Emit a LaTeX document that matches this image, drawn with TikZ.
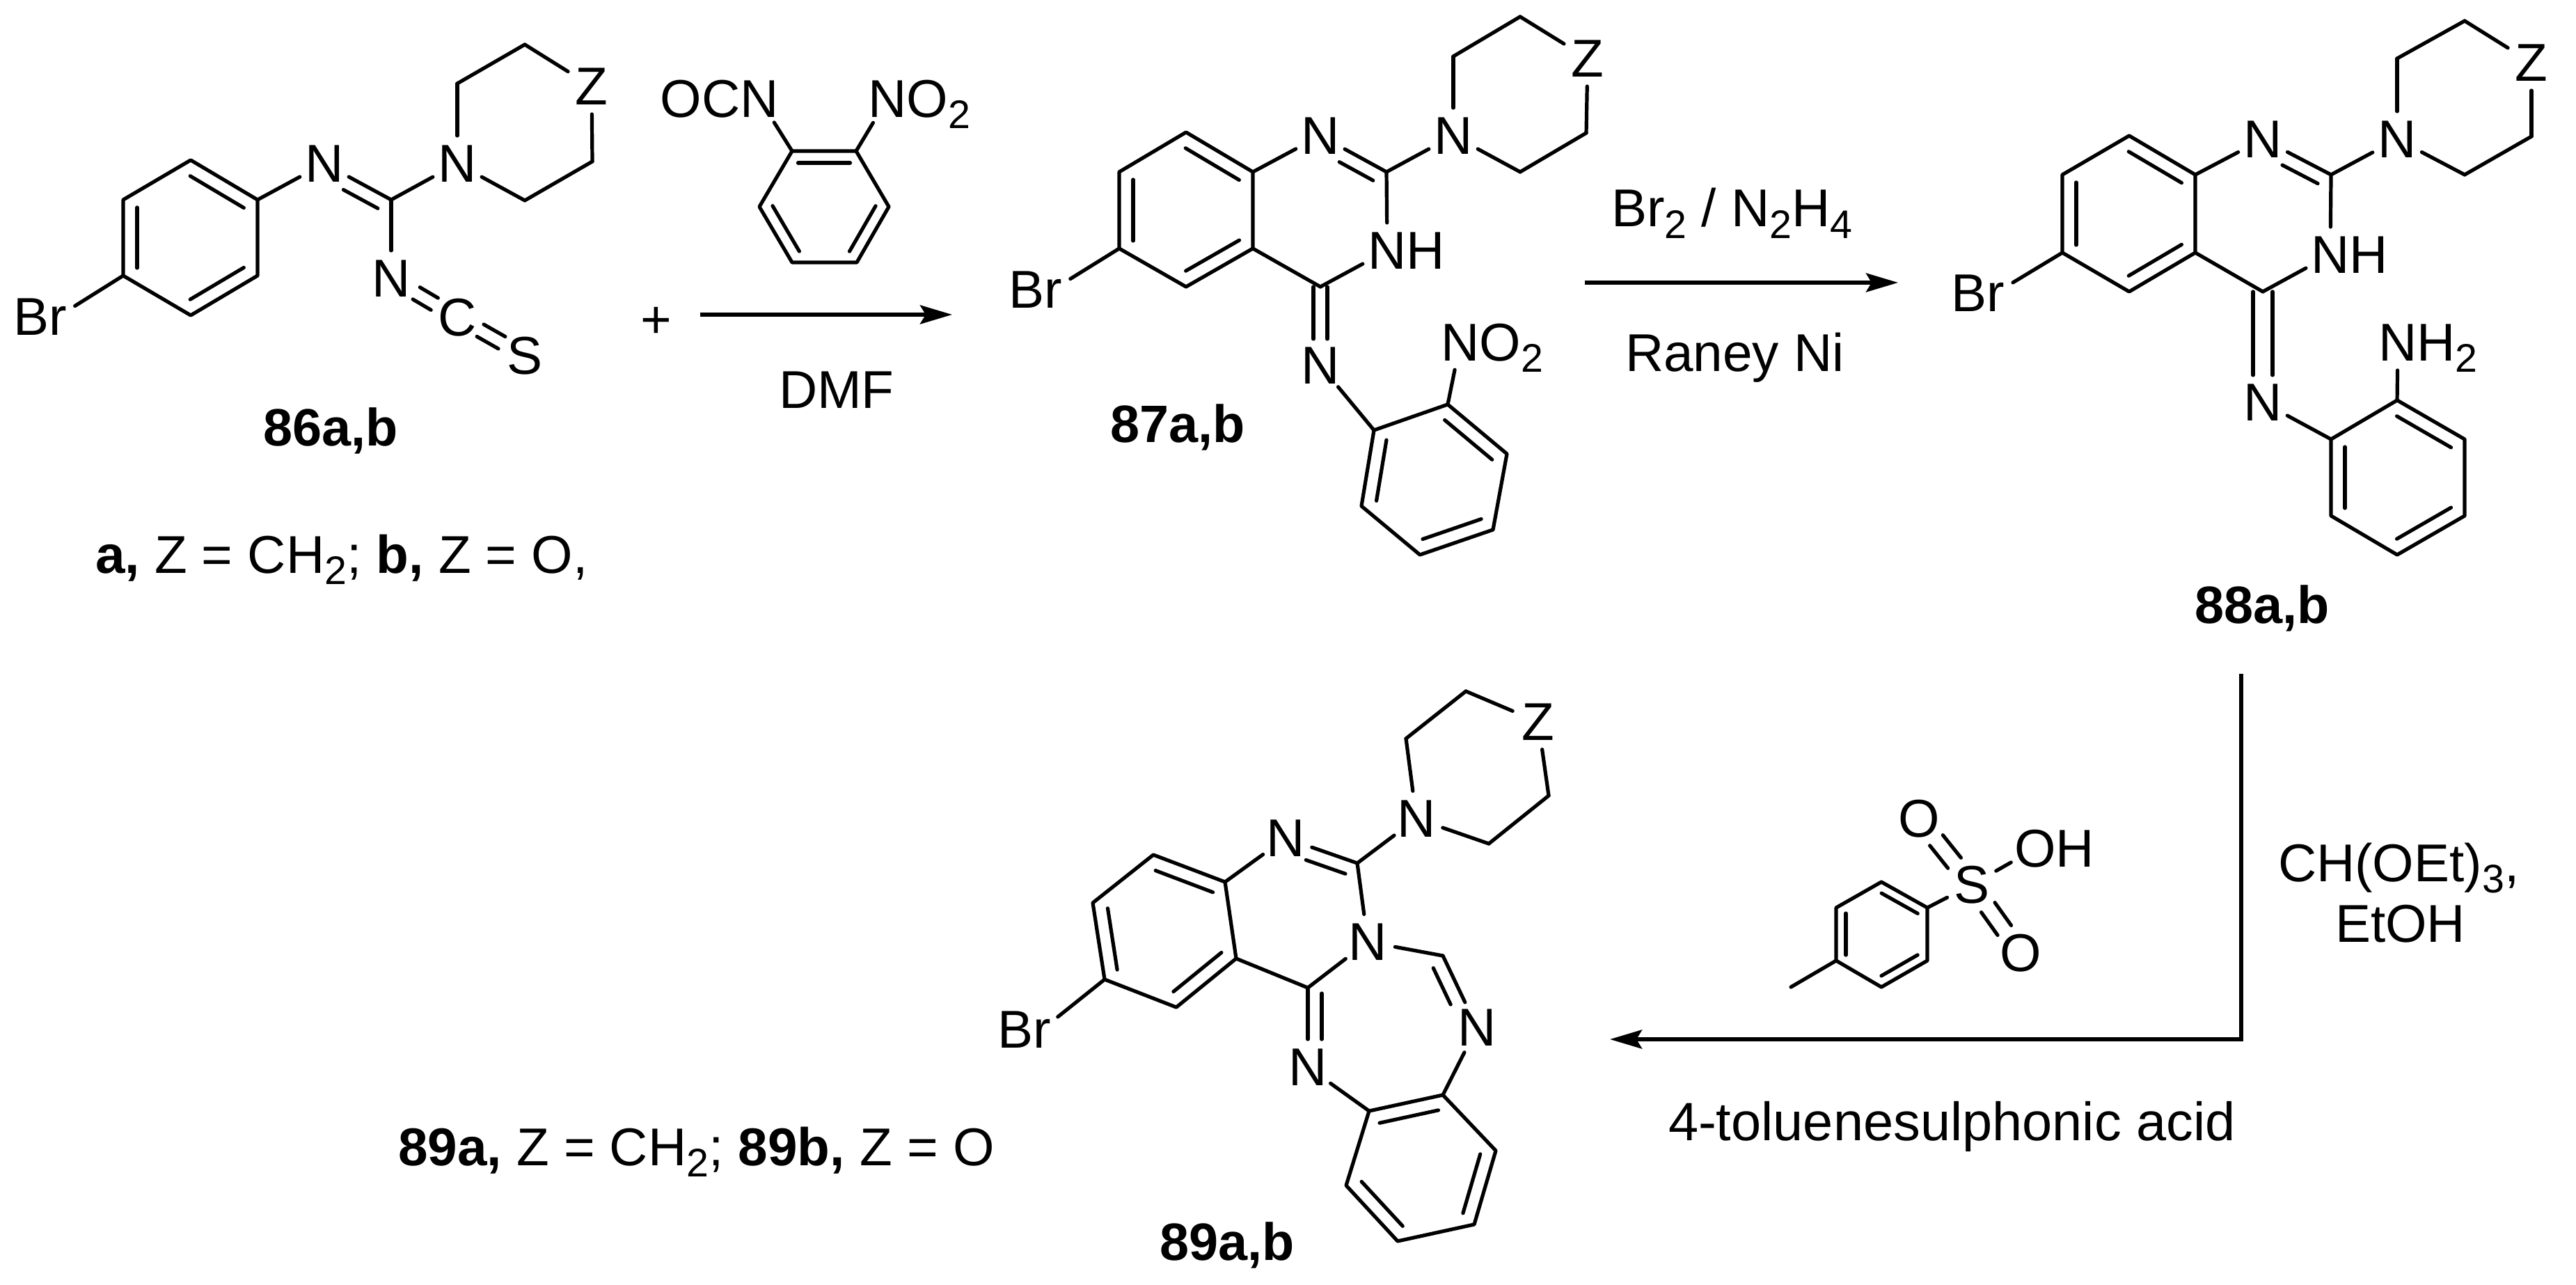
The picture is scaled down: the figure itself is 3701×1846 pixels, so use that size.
\documentclass[tikz,border=0pt]{standalone}
\usepackage{fontspec}
\setmainfont{Liberation Sans}
\usetikzlibrary{calc,arrows.meta}
% subscript, smashed so that atom nodes stay centred on their letter
\newcommand\sbs[1]{\smash{\raisebox{-.16cm}{\fontsize{16.3}{18}\selectfont #1}}}
% second line of a double bond: left of the direction a->b, with insets at a and b and an offset
\newcommand\dbl[5]{\draw[bond] ($(#1)!#3!(#2)!#5!90:(#2)$) -- ($(#2)!#4!(#1)!#5!-90:(#1)$);}
\newcommand\rng[2]{\dbl{#1}{#2}{.11cm}{.11cm}{.2cm}}
\newcommand\srng[2]{\dbl{#1}{#2}{.085cm}{.085cm}{.17cm}}
\newcommand\trng[2]{\dbl{#1}{#2}{.08cm}{.08cm}{.14cm}}
\tikzset{
  bond/.style={line width=.052cm,line cap=round,line join=round},
  rxn/.style={line width=.056cm,-{Stealth[length=.46cm,width=.27cm,inset=.08cm]}},
  atom/.style={circle,inner sep=0,outer sep=0,minimum size=.8cm},
  brom/.style={circle,inner sep=0,outer sep=0,minimum size=.54cm},
  lbl/.style={anchor=base west,inner sep=0,outer sep=0},
  ttl/.style={anchor=base,inner sep=0,outer sep=0,font=\fontsize{21.5}{26}\selectfont\bfseries},
  every node/.append style={font=\fontsize{21.75}{26}\selectfont}
}
\begin{document}
\begin{tikzpicture}[x=.01cm,y=-.01cm]
\fill[white] (0,0) rectangle (3701,1846);
\useasboundingbox (0,0) rectangle (3701,1846);

% ---------- 86 ----------
\foreach \n/\p in {a1/{274,230},a2/{370,287},a3/{370,396},a4/{274,453},a5/{177,396},a6/{177,287},
  a7/{562,287},a8/{657,120},a9/{754,64},a10/{851,232},a11/{754,288}} {\coordinate (\n) at (\p);}
\node[brom] (abr) at (83,455) {\llap{B}r};
\node[atom] (an1) at (466,235) {N};
\node[atom] (an2) at (657,235) {N};
\node[atom] (az) at (850,124) {Z};
\node[atom] (an3) at (562,400) {N};
\node[atom] (ac) at (657,456) {C};
\node[atom] (as) at (754,511) {S};
\draw[bond] (a1)--(a2)--(a3)--(a4)--(a5)--(a6)--cycle;
\rng{a2}{a1}\rng{a6}{a5}\rng{a4}{a3}
\draw[bond] (a5)--(abr);
\draw[bond] (a2)--(an1);
\draw[bond] (an1)--(a7);
\dbl{a7}{an1}{.11cm}{.42cm}{.2cm}
\draw[bond] (a7)--(an2);
\draw[bond] (a7)--(an3);
\draw[bond] (an2)--(a8);
\draw[bond] (a8)--(a9);
\draw[bond] (a9)--(az);
\draw[bond] (az)--(a10);
\draw[bond] (a10)--(a11);
\draw[bond] (a11)--(an2);
\dbl{an3}{ac}{.42cm}{.38cm}{.1cm}\dbl{ac}{an3}{.38cm}{.42cm}{.1cm}
\dbl{ac}{as}{.38cm}{.38cm}{.1cm}\dbl{as}{ac}{.38cm}{.38cm}{.1cm}
\node[ttl] (l86) at (475,640) {86a,b};
\node[lbl] (note) at (137,823) {{\bfseries a,} Z = CH\sbs{2}; {\bfseries b,} Z = O,};
\node (plus) at (943,463) {+};

% ---------- reagent ----------
\foreach \n/\p in {r1/{1138,217},r2/{1230,217},r3/{1277,297},r4/{1231,377},r5/{1138,377},r6/{1091,297}} {\coordinate (\n) at (\p);}
\node[atom] (rocn) at (1091,142) {\llap{OC}N};
\node[atom] (rno) at (1275,142) {N\rlap{O\sbs{2}}};
\draw[bond] (r1)--(r2)--(r3)--(r4)--(r5)--(r6)--cycle;
\srng{r2}{r1}\srng{r6}{r5}\srng{r4}{r3}
\draw[bond] (r1)--(rocn);
\draw[bond] (r2)--(rno);
\coordinate (s1) at (1006,452); \coordinate (e1) at (1368,452);
\draw[rxn] (s1)--(e1);
\node[lbl] (dmf) at (1119,587) {DMF};

% ---------- 87 ----------
\foreach \n/\p in {b1/{1704,190},b2/{1800,247},b3/{1800,357},b4/{1704,412},b5/{1608,357},b6/{1608,247},
  b7/{1992,247},b8/{1897,412},b9/{2088,81},b10/{2184,24},b11/{2279,191},b12/{2184,247},
  c1/{1974,618},c2/{2080,581},c3/{2165,652},c4/{2145,761},c5/{2040,797},c6/{1956,727}} {\coordinate (\n) at (\p);}
\node[brom] (bbr) at (1513,416) {\llap{B}r};
\node[atom] (bn1) at (1897,195) {N};
\node[atom] (bn2) at (2088,195) {N};
\node[atom] (bz) at (2281,84) {Z};
\node[atom] (bnh) at (1993,360) {N\rlap{H}};
\node[atom] (bn3) at (1897,525) {N};
\node[atom] (bno) at (2098,492) {N\rlap{O\sbs{2}}};
\draw[bond] (b1)--(b2)--(b3)--(b4)--(b5)--(b6)--cycle;
\rng{b2}{b1}\rng{b6}{b5}\rng{b4}{b3}
\draw[bond] (b5)--(bbr);
\draw[bond] (b2)--(bn1);
\draw[bond] (bn1)--(b7);
\dbl{b7}{bn1}{.11cm}{.42cm}{.2cm}
\draw[bond] (b7)--(bn2);
\draw[bond] (b7)--(bnh);
\draw[bond] (bnh)--(b8);
\draw[bond] (b8)--(b3);
\draw[bond] (bn2)--(b9);
\draw[bond] (b9)--(b10);
\draw[bond] (b10)--(bz);
\draw[bond] (bz)--(b11);
\draw[bond] (b11)--(b12);
\draw[bond] (b12)--(bn2);
\dbl{b8}{bn3}{0cm}{.38cm}{.1cm}\dbl{bn3}{b8}{.38cm}{0cm}{.1cm}
\draw[bond] (bn3)--(c1);
\draw[bond] (c1)--(c2)--(c3)--(c4)--(c5)--(c6)--cycle;
\rng{c1}{c6}\rng{c3}{c2}\rng{c5}{c4}
\draw[bond] (c2)--(bno);
\node[ttl] (l87) at (1692,635) {87a,b};
\coordinate (s2) at (2277,406); \coordinate (e2) at (2727,406);
\draw[rxn] (s2)--(e2);
\node[lbl] (cond1) at (2315,326) {Br\sbs{2} / N\sbs{2}H\sbs{4}};
\node[lbl] (cond2) at (2335,534) {Raney Ni};

% ---------- 88 ----------
\foreach \n/\p in {d1/{3059,195},d2/{3154,251},d3/{3154,363},d4/{3059,419},d5/{2963,363},d6/{2963,251},
  d7/{3349,251},d8/{3251,419},d9/{3444,84},d10/{3541,30},d11/{3637,196},d12/{3541,251},
  e1a/{3349,631},e2a/{3444,575},e3a/{3541,631},e4a/{3541,741},e5a/{3444,797},e6a/{3349,741}} {\coordinate (\n) at (\p);}
\node[brom] (dbr) at (2867,421) {\llap{B}r};
\node[atom] (dn1) at (3251,200) {N};
\node[atom] (dn2) at (3444,200) {N};
\node[atom] (dz) at (3637,90) {Z};
\node[atom] (dnh) at (3348,366) {N\rlap{H}};
\node[atom] (dn3) at (3251,578) {N};
\node[atom] (dnh2) at (3445,492) {N\rlap{H\sbs{2}}};
\draw[bond] (d1)--(d2)--(d3)--(d4)--(d5)--(d6)--cycle;
\rng{d2}{d1}\rng{d6}{d5}\rng{d4}{d3}
\draw[bond] (d5)--(dbr);
\draw[bond] (d2)--(dn1);
\draw[bond] (dn1)--(d7);
\dbl{d7}{dn1}{.11cm}{.42cm}{.2cm}
\draw[bond] (d7)--(dn2);
\draw[bond] (d7)--(dnh);
\draw[bond] (dnh)--(d8);
\draw[bond] (d8)--(d3);
\draw[bond] (dn2)--(d9);
\draw[bond] (d9)--(d10);
\draw[bond] (d10)--(dz);
\draw[bond] (dz)--(d11);
\draw[bond] (d11)--(d12);
\draw[bond] (d12)--(dn2);
\dbl{d8}{dn3}{0cm}{.39cm}{.14cm}\dbl{dn3}{d8}{.39cm}{0cm}{.14cm}
\draw[bond] (dn3)--(e1a);
\draw[bond] (e1a)--(e2a)--(e3a)--(e4a)--(e5a)--(e6a)--cycle;
\rng{e1a}{e6a}\rng{e3a}{e2a}\rng{e5a}{e4a}
\draw[bond] (e2a)--(dnh2);
\node[ttl] (l88) at (3250,895) {88a,b};

% ---------- third arrow ----------
\coordinate (s3) at (3220,968); \coordinate (k3) at (3220,1493); \coordinate (e3) at (2313,1493);
\draw[rxn] (s3)--(k3)--(e3);
\node[lbl] (cond3) at (3273,1266) {CH(OEt)\sbs{3},};
\node[lbl] (cond4) at (3355,1353) {EtOH};
\node[lbl,font=\fontsize{22.05}{26}\selectfont] (cond5) at (2397,1638) {4-toluenesulphonic acid};

% ---------- tosic acid ----------
\foreach \n/\p in {t1/{2703,1267},t2/{2769,1304},t3/{2769,1380},t4/{2703,1418},t5/{2638,1380},t6/{2638,1304},tm/{2573,1418}} {\coordinate (\n) at (\p);}
\node[atom] (ts) at (2833,1271) {S};
\node[atom] (to1) at (2757,1176) {O};
\node[atom] (to2) at (2903,1369) {O};
\node[atom] (toh) at (2924,1219) {O\rlap{H}};
\draw[bond] (t1)--(t2)--(t3)--(t4)--(t5)--(t6)--cycle;
\trng{t2}{t1}\trng{t6}{t5}\trng{t4}{t3}
\draw[bond] (t5)--(tm);
\draw[bond] (t2)--(ts);
\draw[bond] (ts)--(toh);
\dbl{ts}{to1}{.4cm}{.4cm}{.12cm}\dbl{to1}{ts}{.4cm}{.4cm}{.12cm}
\dbl{ts}{to2}{.4cm}{.4cm}{.12cm}\dbl{to2}{ts}{.4cm}{.4cm}{.12cm}

% ---------- 89 ----------
\foreach \n/\p in {f1/{1657,1228},f2/{1760,1267},f3/{1776,1377},f4/{1690,1447},f5/{1587,1407},f6/{1570,1297},
  f7/{1950,1240},f8/{1879,1419},f9/{2020,1061},f10/{2106,993},f11/{2225,1143},f12/{2139,1212},fch/{2073,1373},
  g1/{1967,1596},g2/{2073,1573},g3/{2149,1653},g4/{2118,1759},g5/{2008,1783},g6/{1934,1703}} {\coordinate (\n) at (\p);}
\node[brom] (fbr) at (1497,1479) {\llap{B}r};
\node[atom] (fn1) at (1847,1204) {N};
\node[atom] (fn2) at (2035,1176) {N};
\node[atom] (fz) at (2210,1037) {Z};
\node[atom] (fn3) at (1965,1353) {N};
\node[atom] (fn4) at (1879,1533) {N};
\node[atom] (fn5) at (2122,1476) {N};
\draw[bond] (f1)--(f2)--(f3)--(f4)--(f5)--(f6)--cycle;
\rng{f2}{f1}\rng{f6}{f5}\rng{f4}{f3}
\draw[bond] (f5)--(fbr);
\draw[bond] (f2)--(fn1);
\draw[bond] (fn1)--(f7);
\dbl{f7}{fn1}{.11cm}{.38cm}{.2cm}
\draw[bond] (f7)--(fn2);
\draw[bond] (f7)--(fn3);
\draw[bond] (fn3)--(f8);
\draw[bond] (f8)--(f3);
\draw[bond] (f8)--(fn4);
\dbl{f8}{fn4}{.08cm}{.4cm}{.2cm}
\draw[bond] (fn2)--(f9);
\draw[bond] (f9)--(f10);
\draw[bond] (f10)--(fz);
\draw[bond] (fz)--(f11);
\draw[bond] (f11)--(f12);
\draw[bond] (f12)--(fn2);
\draw[bond] (fn3)--(fch);
\draw[bond] (fch)--(fn5);
\dbl{fn5}{fch}{.46cm}{.1cm}{.2cm}
\draw[bond] (fn5)--(g2);
\draw[bond] (fn4)--(g1);
\draw[bond] (g1)--(g2)--(g3)--(g4)--(g5)--(g6)--cycle;
\rng{g2}{g1}\rng{g4}{g3}\rng{g6}{g5}
\node[ttl] (l89) at (1763,1810) {89a,b};
\node[lbl] (note2) at (572,1674) {{\bfseries 89a,} Z = CH\sbs{2}; {\bfseries 89b,} Z = O};
\end{tikzpicture}
\end{document}
